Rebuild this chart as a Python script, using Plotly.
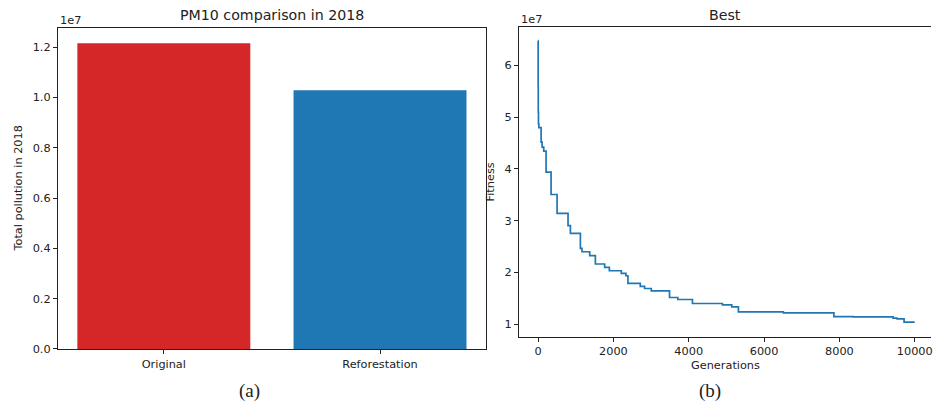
import plotly.graph_objects as go

# ---- data ----
categories = ["Original", "Reforestation"]
pollution = [1.2155e7, 1.0286e7]

generations = [0, 2, 5, 10, 20, 80, 107, 150, 212, 345, 504, 795, 858, 1123, 1166, 1370,
               1521, 1767, 1892, 2210, 2332, 2385, 2713, 2827, 3005, 3490, 3710, 4099,
               4894, 5141, 5318, 6511, 7854, 8365, 9425, 9531, 9717, 10000]
fitness = [6.48e7, 5.6e7, 5.1e7, 4.87e7, 4.80e7, 4.52e7, 4.42e7, 4.345e7, 3.94e7, 3.506e7,
           3.143e7, 2.905e7, 2.756e7, 2.466e7, 2.40e7, 2.324e7, 2.163e7, 2.097e7, 2.033e7,
           1.981e7, 1.936e7, 1.787e7, 1.729e7, 1.69e7, 1.645e7, 1.516e7, 1.477e7, 1.40e7,
           1.374e7, 1.335e7, 1.238e7, 1.219e7, 1.148e7, 1.14e7, 1.116e7, 1.103e7, 1.04e7, 1.04e7]

left_ticks = [0, 0.2e7, 0.4e7, 0.6e7, 0.8e7, 1.0e7, 1.2e7]
left_ticktext = ["0.0", "0.2", "0.4", "0.6", "0.8", "1.0", "1.2"]
right_ticks = [1e7, 2e7, 3e7, 4e7, 5e7, 6e7]
right_ticktext = ["1", "2", "3", "4", "5", "6"]
x_ticks = [0, 2000, 4000, 6000, 8000, 10000]

W, H = 933, 405
K = 0.98  # observed vertical compression of the rendered page
def px(x): return x / W
def py(y): return 1 - (y / K) / H

FONT = "DejaVu Sans"
TS = 11.3
fig = go.Figure()
fig.add_trace(go.Bar(x=[0, 1], y=pollution, width=0.8,
                     marker=dict(color=["#d62728", "#1f77b4"], line=dict(width=0)),
                     xaxis="x", yaxis="y", showlegend=False))
fig.add_trace(go.Scatter(x=generations, y=fitness, mode="lines", line_shape="hv",
                         line=dict(color="#1f77b4", width=1.7),
                         xaxis="x2", yaxis="y2", showlegend=False))

axis_common = dict(showgrid=False, zeroline=False, showline=True, linecolor="#222",
                   linewidth=1, ticks="outside", ticklen=4, tickcolor="#222",
                   ticklabeloverflow="allow",
                   tickfont=dict(family=FONT, size=TS, color="#222"))

fig.update_layout(
    width=W, height=H, margin=dict(l=0, r=0, t=0, b=0),
    paper_bgcolor="white", plot_bgcolor="white",
    xaxis=dict(domain=[px(58), px(487)], range=[-0.49, 1.49], tickvals=[0, 1],
               ticktext=categories, mirror=True, anchor="y", **axis_common),
    yaxis=dict(domain=[py(348), py(28)], range=[0, 1.276e7], tickvals=left_ticks,
               ticktext=left_ticktext, mirror=True, anchor="x", **axis_common),
    xaxis2=dict(domain=[px(520), 1.0], range=[-510, 10432], tickvals=x_ticks,
                ticktext=[str(v) for v in x_ticks], mirror=True, anchor="y2", **axis_common),
    yaxis2=dict(domain=[py(336), py(27)], range=[0.754e7, 6.742e7], tickvals=right_ticks,
                ticktext=right_ticktext, anchor="x2", **axis_common),
)

def ann(text, x, y, size=TS, family=FONT, angle=0, xanchor="center"):
    fig.add_annotation(text=text, x=px(x), y=py(y), xref="paper", yref="paper",
                       showarrow=False, textangle=angle, xanchor=xanchor, yanchor="middle",
                       font=dict(family=family, size=size, color="#222"))

ann("PM10 comparison in 2018", 272.5, 15, size=14.2)
ann("Best", 727, 15, size=14.2)
ann("1e7", 58, 20, xanchor="left")
ann("1e7", 520, 19, xanchor="left")
ann("Total pollution in 2018", 19, 188, angle=-90)
ann("Fitness", 492, 181, angle=-90)
ann("Generations", 727, 364)
ann("(a)", 250, 390, size=19, family="Liberation Serif")
ann("(b)", 712, 390, size=19, family="Liberation Serif")

fig.write_html("out.html", config={"displayModeBar": False})

# remove the default browser body margin so the figure sits at the page origin
with open("out.html", "r", encoding="utf-8") as f:
    html = f.read()
html = html.replace("<head>", "<head><style>html,body{margin:0;padding:0;overflow:hidden;}</style>", 1)
with open("out.html", "w", encoding="utf-8") as f:
    f.write(html)
